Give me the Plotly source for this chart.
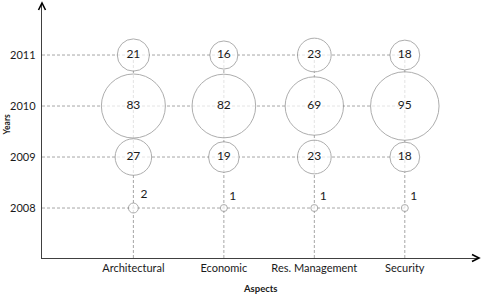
import plotly.graph_objects as go

categories = ["Architectural", "Economic", "Res. Management", "Security"]
years = [2008, 2009, 2010, 2011]
values_2008 = [2, 1, 1, 1]
values_2009 = [27, 19, 23, 18]
values_2010 = [83, 82, 69, 95]
values_2011 = [21, 16, 23, 18]

FONT = "Lato"
xi = list(range(len(categories)))
fig = go.Figure()

grid = dict(color="#a6a6a6", width=1, dash="3px,2px")
y_lo, y_hi = 2007.02, 2012.02
x_lo, x_hi = -1.01, 3.82
for y in years:
    fig.add_trace(go.Scatter(x=[x_lo, xi[-1]], y=[y, y], mode="lines", line=grid,
                             hoverinfo="skip", showlegend=False))
for x in xi:
    fig.add_trace(go.Scatter(x=[x, x], y=[y_lo, years[-1]], mode="lines", line=grid,
                             hoverinfo="skip", showlegend=False))

marker = dict(sizemode="area", sizeref=2 / 49.4, color="white",
              line=dict(color="#8c8c8c", width=1))
fig.add_trace(go.Scatter(x=xi, y=[2008] * len(xi), mode="markers+text",
                         marker=dict(size=values_2008, **marker),
                         text=[str(v) for v in values_2008], textposition="top right",
                         textfont=dict(family=FONT, size=12, color="#1a1a1a"),
                         hoverinfo="skip", showlegend=False, cliponaxis=False))
for yr, vals in [(2009, values_2009), (2011, values_2011), (2010, values_2010)]:
    fig.add_trace(go.Scatter(x=xi, y=[yr] * len(xi), mode="markers+text",
                             marker=dict(size=vals, **marker), text=[str(v) for v in vals],
                             textposition="middle center",
                             textfont=dict(family=FONT, size=12, color="#1a1a1a"),
                             hoverinfo="skip", showlegend=False, cliponaxis=False))

fig.update_xaxes(range=[x_lo, x_hi], tickvals=xi, ticktext=categories, showgrid=False,
                 zeroline=False, showline=True, linecolor="#404040", linewidth=1.3,
                 ticks="", automargin=False,
                 tickfont=dict(family=FONT, size=11, color="#1a1a1a"))
fig.update_yaxes(range=[y_lo, y_hi], tickvals=years, ticktext=[str(y) for y in years],
                 showgrid=False, zeroline=False, showline=True, linecolor="#404040",
                 linewidth=1.3, ticks="", ticklabelstandoff=3, automargin=False,
                 tickfont=dict(family=FONT, size=11, color="#1a1a1a"))

fig.add_annotation(text="<b>Aspects</b>", xref="paper", yref="paper", x=0.5, y=0,
                   yshift=-30, showarrow=False, yanchor="middle",
                   font=dict(family=FONT, size=9.5, color="#1a1a1a"))
fig.add_annotation(text="<b>Years</b>", xref="paper", yref="paper", x=0, y=0.5,
                   xshift=-36, yshift=6, showarrow=False, textangle=-90, xanchor="center",
                   yanchor="middle", font=dict(family=FONT, size=8.5, color="#1a1a1a"))

# arrowheads at axis ends
fig.add_shape(type="path", xref="paper", yref="paper", xsizemode="pixel", ysizemode="pixel",
              xanchor=0, yanchor=1, path="M -3.5 -7 L 0 0 L 3.5 -7",
              line=dict(color="black", width=1.6))
fig.add_shape(type="path", xref="paper", yref="paper", xsizemode="pixel", ysizemode="pixel",
              xanchor=1, yanchor=0, path="M -7 3.5 L 0 0 L -7 -3.5",
              line=dict(color="black", width=1.6))

fig.update_layout(width=498, height=299, margin=dict(l=42, r=19, t=3, b=41),
                  plot_bgcolor="white", paper_bgcolor="white", showlegend=False)
fig.write_html("out.html", config={"displayModeBar": False},
               post_script="document.body.style.margin='0';")
